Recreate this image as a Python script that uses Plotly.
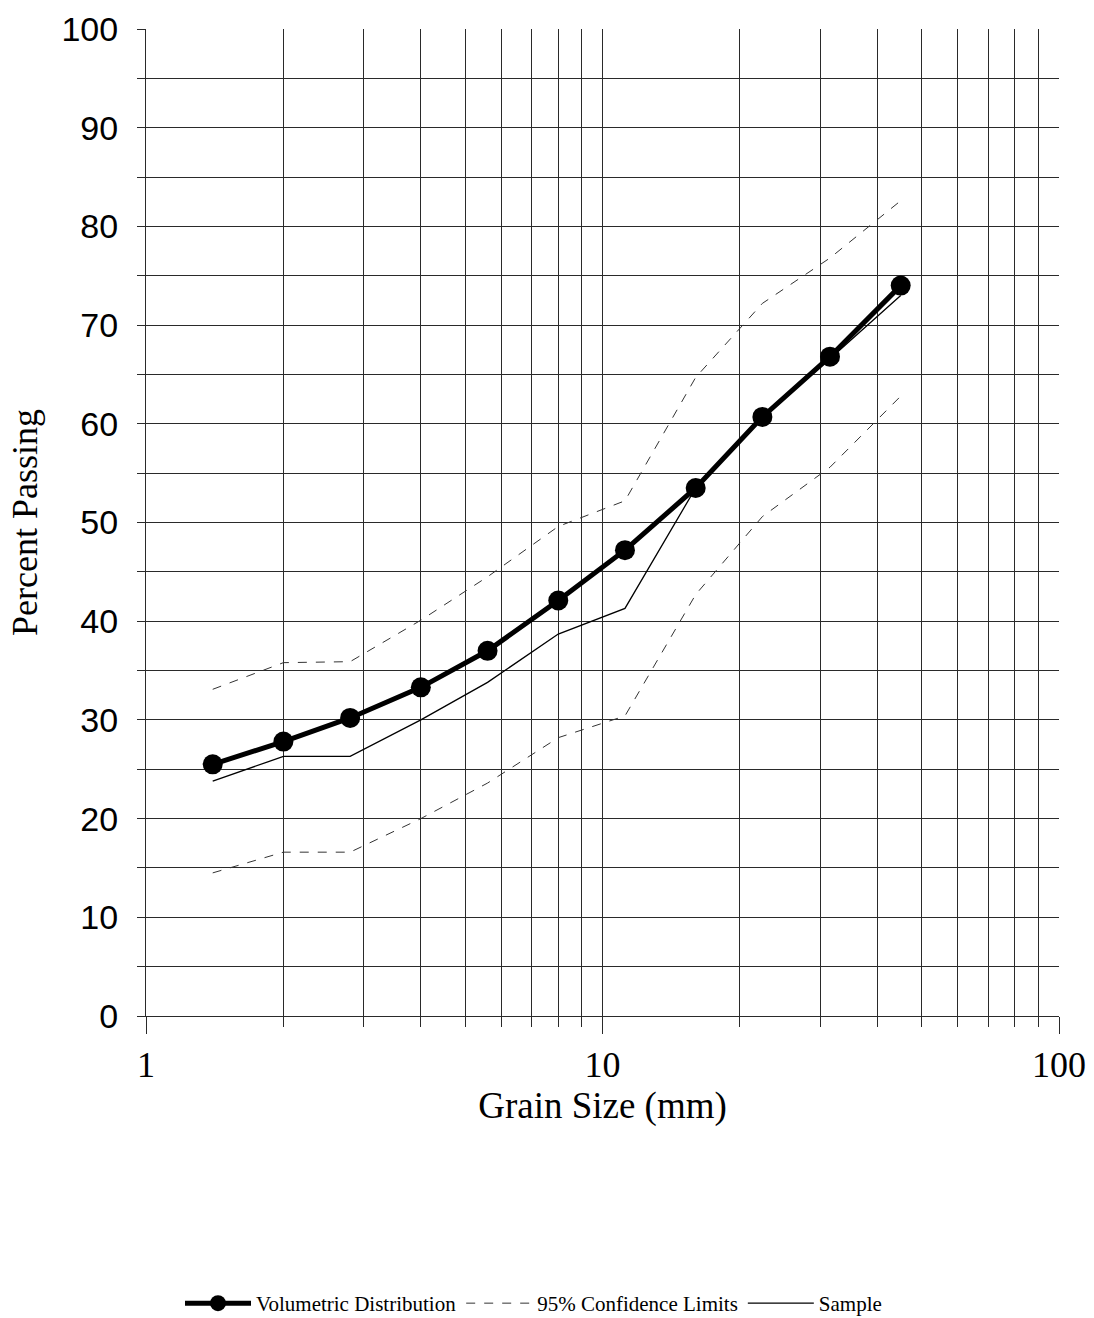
import plotly.graph_objects as go

# Sieve sizes (mm) and percent passing
grain_size = [1.4, 2, 2.8, 4, 5.6, 8, 11.2, 16, 22.4, 31.5, 45]
volumetric = [25.5, 27.8, 30.2, 33.3, 37.0, 42.1, 47.2, 53.5, 60.7, 66.8, 74.0]
sample = [23.8, 26.3, 26.3, 30.0, 33.8, 38.7, 41.3, 53.5, 60.7, 66.6, 73.0]
upper_95 = [33.1, 35.8, 35.9, 40.1, 44.5, 49.6, 52.2, 64.7, 72.2, 76.8, 82.6]
lower_95 = [14.5, 16.6, 16.6, 20.0, 23.6, 28.2, 30.4, 42.7, 50.6, 55.6, 62.8]

x_major = [1, 10, 100]
x_minor = [2, 3, 4, 5, 6, 7, 8, 9, 20, 30, 40, 50, 60, 70, 80, 90]

serif = "Liberation Serif, Times New Roman, serif"
sans = "Liberation Sans, Arial, sans-serif"

fig = go.Figure()

fig.add_trace(go.Scatter(
    x=grain_size, y=volumetric, name="Volumetric Distribution",
    mode="lines+markers",
    line=dict(color="black", width=5),
    marker=dict(color="black", size=20, symbol="circle"),
))
fig.add_trace(go.Scatter(
    x=grain_size, y=upper_95, name="95% Confidence Limits",
    mode="lines", line=dict(color="#333333", width=1, dash="dash"),
    legendgroup="ci",
))
fig.add_trace(go.Scatter(
    x=grain_size, y=lower_95, name="95% Confidence Limits",
    mode="lines", line=dict(color="#333333", width=1, dash="dash"),
    legendgroup="ci", showlegend=False,
))
fig.add_trace(go.Scatter(
    x=grain_size, y=sample, name="Sample",
    mode="lines", line=dict(color="black", width=1.3),
))

grid_color = "#2a2a2a"

fig.update_xaxes(
    type="log", range=[0, 2], automargin=False,
    tickmode="array", tickvals=x_major, ticktext=["1", "10", "100"],
    ticks="outside", ticklen=17, tickcolor=grid_color, tickwidth=1,
    showgrid=True, gridcolor=grid_color, gridwidth=1,
    minor=dict(tickmode="array", tickvals=x_minor, ticks="outside", ticklen=10,
               tickcolor=grid_color, showgrid=True, gridcolor=grid_color, gridwidth=1),
    showline=True, linecolor=grid_color, linewidth=1,
    zeroline=False,
    tickfont=dict(family=serif, size=36, color="black"),
    title=dict(text="Grain Size (mm)", font=dict(family=serif, size=37, color="black"), standoff=0),
)
fig.update_yaxes(
    range=[0, 100], automargin=False,
    tickmode="linear", tick0=0, dtick=10,
    ticks="outside", ticklen=8, tickcolor=grid_color, tickwidth=1,
    showgrid=True, gridcolor=grid_color, gridwidth=1,
    minor=dict(dtick=5, ticks="outside", ticklen=8, tickcolor=grid_color,
               showgrid=True, gridcolor=grid_color, gridwidth=1),
    showline=True, linecolor=grid_color, linewidth=1,
    zeroline=False,
    ticklabelstandoff=12,
    tickfont=dict(family=sans, size=34, color="black"),
    title=dict(text="Percent Passing", font=dict(family=serif, size=36, color="black"), standoff=12),
)

fig.update_layout(
    width=1094, height=1318,
    margin=dict(l=146, r=35, t=29, b=302),
    plot_bgcolor="white", paper_bgcolor="white",
    showlegend=True,
    legend=dict(
        orientation="h", x=180 / 1094, xref="container", xanchor="left",
        y=0.011, yref="container", yanchor="middle",
        font=dict(family=serif, size=21, color="black"),
        itemwidth=66, tracegroupgap=0, bgcolor="rgba(0,0,0,0)",
    ),
)

fig.write_html("out.html")
